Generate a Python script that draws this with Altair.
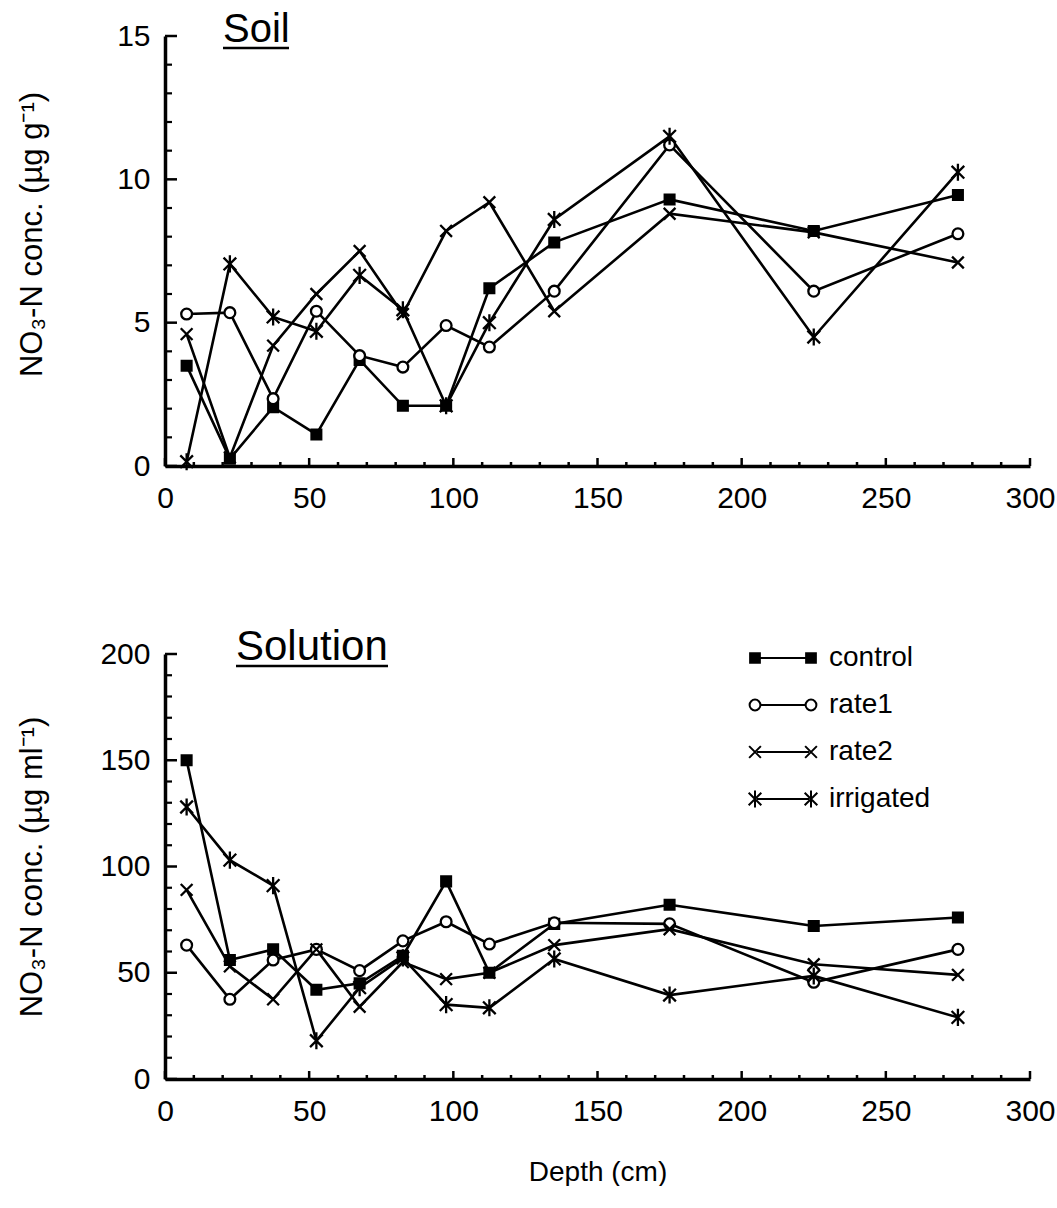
import altair as alt
import pandas as pd

# Sampling depths (cm): midpoints of the sampled layers
depth = [7.5, 22.5, 37.5, 52.5, 67.5, 82.5, 97.5, 112.5, 135, 175, 225, 275]
treatments = ["control", "rate1", "rate2", "irrigated"]

# Soil NO3-N concentration (µg g-1)
soil_control = [3.5, 0.25, 2.05, 1.1, 3.7, 2.1, 2.1, 6.2, 7.8, 9.3, 8.2, 9.45]
soil_rate1 = [5.3, 5.35, 2.35, 5.4, 3.85, 3.45, 4.9, 4.15, 6.1, 11.2, 6.1, 8.1]
soil_rate2 = [4.6, 0.3, 4.2, 6.0, 7.5, 5.3, 8.2, 9.2, 5.4, 8.8, 8.15, 7.1]
soil_irrigated = [0.15, 7.05, 5.2, 4.7, 6.65, 5.45, 2.1, 5.0, 8.6, 11.5, 4.5, 10.25]

# Soil solution NO3-N concentration (µg ml-1)
solution_control = [150, 56, 61, 42, 45, 58, 93, 50, 73, 82, 72, 76]
solution_rate1 = [63, 37.5, 56, 61, 51, 65, 74, 63.5, 73.5, 73, 45.5, 61]
solution_rate2 = [89, 53, 37.5, 61, 34, 55, 47, 50, 63, 70.5, 54, 49]
solution_irrigated = [128, 103, 91, 18, 43, 57, 35, 33.5, 56.5, 39.5, 48.5, 29]

# Tick values
x_major = [0, 50, 100, 150, 200, 250, 300]
x_minor = [v for v in range(10, 300, 10) if v % 50]
soil_y_major = [0, 5, 10, 15]
soil_y_minor = [v for v in range(1, 15) if v % 5]
sol_y_major = [0, 50, 100, 150, 200]
sol_y_minor = [v for v in range(10, 200, 10) if v % 50]

FONT = "Liberation Sans"
W = 865
X_PATH = "M-1,-1L1,1M-1,1L1,-1"
STAR_PATH = "M-1,-1L1,1M-1,1L1,-1M0,-1.35L0,1.35"


def long_table(series):
    rows = []
    for name, vals in zip(treatments, series):
        for d, v in zip(depth, vals):
            rows.append({"depth": d, "value": v, "treatment": name})
    return pd.DataFrame(rows)


def marker_channels(sizes):
    return dict(
        shape=alt.Shape("treatment:N", legend=None,
                        scale=alt.Scale(domain=treatments,
                                        range=["square", "circle", X_PATH, STAR_PATH])),
        fill=alt.Fill("treatment:N", legend=None,
                      scale=alt.Scale(domain=treatments,
                                      range=["black", "white", "transparent", "transparent"])),
        size=alt.Size("treatment:N", legend=None,
                      scale=alt.Scale(domain=treatments, range=sizes)),
    )


def panel(df, ydom, y_major, y_minor, ytitle, height, name, name_x, name_size,
          name_width, xtitle=None, title_y=None, legend=False):
    xs = alt.Scale(domain=[0, 300], nice=False, zero=False)
    ys = alt.Scale(domain=ydom, nice=False, zero=False)
    x_axis = alt.Axis(values=x_major, format="d", ticks=False, grid=False,
                      domainWidth=3.5, domainColor="black", labelFlush=False,
                      labelFont=FONT, labelFontSize=30, labelColor="black",
                      labelPadding=17, title=xtitle, titleFont=FONT,
                      titleFontSize=28, titleFontWeight="normal",
                      titleColor="black", titlePadding=32)
    y_kwargs = dict(values=y_major, format="d", ticks=False, grid=False,
                    domainWidth=3.5, domainColor="black",
                    labelFont=FONT, labelFontSize=30, labelColor="black",
                    labelPadding=15, title=ytitle, titleFont=FONT,
                    titleFontSize=31, titleFontWeight="normal",
                    titleColor="black", titleX=-117, titleBaseline="bottom")
    if title_y is not None:
        y_kwargs["titleY"] = title_y
    y_axis = alt.Axis(**y_kwargs)

    X = alt.X("depth:Q", scale=xs, axis=x_axis)
    Y = alt.Y("value:Q", scale=ys, axis=y_axis)

    base = alt.Chart(df)
    lines = base.mark_line(color="black", strokeWidth=2.6).encode(
        x=X, y=Y, detail="treatment:N")
    points = base.mark_point(filled=False, color="black", strokeWidth=2.3,
                             opacity=1).encode(
        x=X, y=Y, **marker_channels([95, 160, 160, 200]))

    # inward-pointing tick marks along both axes
    def yticks(vals, length, sw):
        return alt.Chart(pd.DataFrame({"value": vals})).mark_rule(
            color="black", strokeWidth=sw).encode(
            y=Y, x=alt.value(0), x2=alt.value(length))

    def xticks(vals, length, sw):
        return alt.Chart(pd.DataFrame({"depth": vals})).mark_rule(
            color="black", strokeWidth=sw).encode(
            x=X, y=alt.value(height), y2=alt.value(height - length))

    title_df = pd.DataFrame({"label": [name]})
    title_text = alt.Chart(title_df).mark_text(
        align="left", baseline="alphabetic", font=FONT, fontSize=name_size,
        color="black").encode(x=alt.value(name_x), y=alt.value(6), text="label:N")
    underline = alt.Chart(title_df).mark_rule(color="black", strokeWidth=2.5).encode(
        x=alt.value(name_x), x2=alt.value(name_x + name_width), y=alt.value(12))

    layers = [yticks(y_major, 12, 2.5), yticks(y_minor, 7, 2.2),
              xticks(x_major, 8, 2.5), xticks(x_minor, 4, 2.5),
              lines, points, title_text, underline]

    if legend:
        leg = alt.Chart(pd.DataFrame({"treatment": treatments,
                                      "row": [0, 1, 2, 3]})).transform_calculate(
            py="4 + datum.row * 47")
        ly = alt.Y("py:Q", scale=None, axis=None)
        layers += [
            leg.mark_rule(color="black", strokeWidth=2).encode(
                x=alt.value(592), x2=alt.value(644), y=ly),
            leg.mark_point(filled=False, color="black", strokeWidth=2,
                           opacity=1).encode(
                x=alt.value(590), y=ly, **marker_channels([55, 90, 90, 110])),
            leg.mark_point(filled=False, color="black", strokeWidth=2,
                           opacity=1).encode(
                x=alt.value(646), y=ly, **marker_channels([55, 90, 90, 110])),
            leg.mark_text(align="left", baseline="middle", font=FONT,
                          fontSize=28, color="black").encode(
                x=alt.value(664), y=ly, text="treatment:N"),
        ]

    return alt.layer(*layers).properties(width=W, height=height)


soil = long_table([soil_control, soil_rate1, soil_rate2, soil_irrigated])
solution = long_table([solution_control, solution_rate1, solution_rate2,
                       solution_irrigated])

top = panel(soil, [0, 15], soil_y_major, soil_y_minor,
            "NO₃-N conc. (µg g⁻¹)", 430, "Soil", 58, 40, 66, title_y=198)
bottom = panel(solution, [0, 200], sol_y_major, sol_y_minor,
               "NO₃-N conc. (µg ml⁻¹)", 425, "Solution", 71, 42, 152,
               xtitle="Depth (cm)", legend=True)

chart = alt.vconcat(top, bottom, spacing=113).properties(
    padding={"left": 15, "top": 10, "right": 0, "bottom": 0}
).configure_view(stroke=None)

chart.save("out.html", embed_options={"renderer": "svg", "actions": False})
